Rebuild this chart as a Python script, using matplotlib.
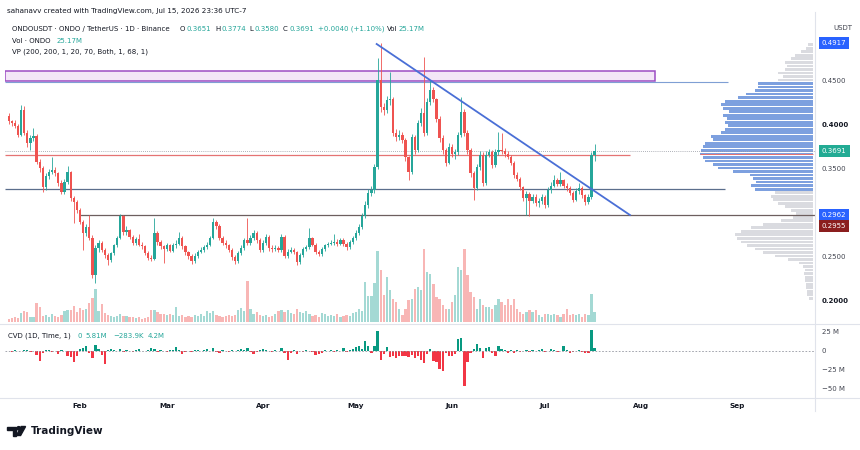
import numpy as np
import pandas as pd
import matplotlib
matplotlib.use("Agg")
import matplotlib.pyplot as plt
from matplotlib.lines import Line2D
from matplotlib.patches import Rectangle, Ellipse, Polygon

# ---- data (daily candles, ONDO/USDT) ----
day0 = pd.Timestamp("2026-01-09")
month_starts = ["2026-02-01", "2026-03-01", "2026-04-01", "2026-05-01",
                "2026-06-01", "2026-07-01", "2026-08-01", "2026-09-01"]
month_names = ["Feb", "Mar", "Apr", "May", "Jun", "Jul", "Aug", "Sep"]

first_open = 0.409
close = [.403, .401, .398, .388, .416, .390, .378, .384, .386, .357,
         .350, .328, .341, .345, .348, .344, .333, .323, .334, .345,
         .316, .311, .302, .289, .276, .283, .271, .228, .259, .265,
         .257, .251, .245, .253, .262, .271, .295, .277, .279, .272,
         .265, .269, .263, .261, .253, .248, .247, .276, .266, .261,
         .258, .262, .256, .262, .264, .271, .261, .254, .250, .244,
         .250, .255, .257, .260, .263, .271, .289, .284, .271, .265,
         .262, .257, .249, .244, .253, .259, .268, .265, .270, .276,
         .268, .257, .265, .272, .259, .258, .259, .257, .272, .250,
         .255, .257, .254, .243, .251, .258, .260, .270, .263, .254,
         .252, .258, .262, .264, .265, .266, .264, .268, .264, .260,
         .266, .270, .276, .283, .296, .308, .322, .325, .351, .450,
         .419, .416, .427, .428, .390, .385, .388, .382, .362, .345,
         .385, .370, .401, .412, .390, .425, .439, .428, .406, .384,
         .370, .356, .374, .366, .368, .387, .414, .390, .370, .344,
         .327, .351, .365, .333, .365, .368, .353, .368, .370, .369,
         .366, .363, .356, .342, .338, .328, .316, .320, .313, .317,
         .310, .312, .317, .308, .325, .330, .336, .332, .336, .330,
         .327, .322, .314, .324, .327, .319, .311, .317, .3651, .3691]
high = [.412, .405, .404, .400, .422, .420, .393, .387, .396, .389,
        .360, .352, .344, .349, .362, .351, .346, .336, .337, .352,
        .347, .318, .314, .305, .291, .286, .297, .274, .262, .268,
        .267, .259, .253, .255, .264, .273, .298, .297, .284, .281,
        .274, .272, .275, .266, .263, .256, .251, .293, .278, .268,
        .263, .265, .264, .265, .268, .277, .273, .263, .256, .252,
        .253, .257, .260, .262, .266, .273, .293, .291, .286, .273,
        .268, .264, .259, .251, .256, .262, .271, .293, .274, .280,
        .278, .270, .268, .275, .274, .262, .262, .261, .275, .274,
        .258, .260, .259, .256, .253, .260, .263, .282, .272, .265,
        .257, .260, .264, .266, .268, .275, .269, .271, .270, .266,
        .268, .273, .279, .286, .299, .312, .326, .330, .355, .475,
        .4917, .424, .432, .459, .431, .394, .393, .391, .384, .364,
        .389, .388, .405, .418, .476, .429, .450, .442, .430, .409,
        .387, .373, .378, .377, .372, .391, .431, .417, .393, .373,
        .347, .355, .369, .368, .369, .372, .371, .372, .391, .390,
        .373, .369, .365, .358, .345, .340, .330, .324, .323, .321,
        .320, .316, .320, .319, .328, .334, .342, .339, .345, .338,
        .333, .330, .324, .327, .333, .329, .321, .320, .368, .3774]
low = [.400, .398, .396, .385, .386, .388, .374, .370, .381, .355,
       .346, .323, .325, .338, .343, .341, .330, .320, .321, .332,
       .313, .288, .299, .286, .257, .273, .268, .225, .219, .255,
       .254, .248, .240, .243, .251, .260, .269, .274, .274, .269,
       .262, .263, .261, .258, .251, .245, .244, .246, .263, .258,
       .242, .256, .254, .254, .259, .262, .258, .251, .247, .241,
       .242, .248, .253, .255, .258, .261, .269, .281, .268, .262,
       .259, .254, .246, .241, .242, .251, .257, .262, .263, .268,
       .265, .254, .255, .263, .256, .255, .256, .254, .255, .248,
       .248, .253, .252, .240, .241, .249, .256, .258, .261, .252,
       .250, .250, .256, .260, .262, .263, .261, .262, .261, .257,
       .258, .264, .268, .274, .281, .293, .305, .318, .322, .349,
       .414, .410, .412, .422, .386, .381, .382, .378, .358, .336,
       .343, .366, .368, .398, .386, .388, .422, .425, .402, .380,
       .366, .352, .354, .362, .360, .365, .385, .386, .366, .340,
       .314, .325, .348, .330, .331, .362, .350, .351, .365, .366,
       .363, .360, .353, .339, .335, .325, .313, .297, .296, .310,
       .307, .306, .309, .305, .306, .322, .328, .329, .330, .327,
       .324, .319, .311, .312, .321, .316, .308, .309, .315, .358]
volume = [3, 4, 5, 4, 9, 11, 10, 5, 5, 19,
          15, 6, 7, 5, 8, 6, 5, 7, 11, 12,
          12, 16, 10, 14, 12, 13, 19, 24, 33, 11,
          18, 9, 7, 6, 5, 6, 8, 6, 6, 5,
          5, 4, 5, 3, 4, 5, 12, 12, 10, 8,
          8, 7, 8, 7, 15, 6, 7, 5, 6, 5,
          7, 6, 8, 6, 11, 9, 11, 7, 6, 5,
          6, 7, 6, 7, 12, 14, 11, 41, 13, 8,
          10, 7, 6, 7, 5, 6, 8, 11, 12, 10,
          12, 9, 8, 13, 10, 9, 11, 8, 6, 7,
          5, 9, 8, 6, 7, 6, 8, 5, 6, 7,
          6, 9, 10, 13, 11, 40, 26, 26, 39, 71,
          52, 27, 45, 32, 23, 20, 13, 7, 13, 22,
          23, 33, 35, 32, 73, 50, 48, 38, 25, 23,
          17, 13, 13, 20, 27, 55, 52, 73, 47, 30,
          25, 13, 23, 17, 15, 15, 13, 17, 23, 20,
          17, 23, 17, 23, 13, 10, 8, 10, 12, 10,
          12, 7, 5, 8, 8, 7, 8, 7, 5, 8,
          13, 7, 8, 7, 8, 5, 8, 7, 28, 10]
cvd = [0.5, -0.8, 1.2, 0.6, -0.5, 1.0, 0.8, -1.0, 0.5, -5,
       -13, -3, 1.5, 0.8, -1, -0.5, -4, 1, 0.5, -6,
       -8, -14, -6, 2, 4, 6, -3, -9, 8, 3,
       -5, -17, 1, 2, 1.5, 0.5, 2.5, -1, 1, 0.5,
       -1, 1.5, 2, 0.5, -0.5, 1, 3.5, 2, -1, 1,
       0.5, -1.5, 1, 0.8, 5, 1, -3.5, -1, 0.5, -1,
       1, 1.5, 0.5, 1, 2, 0.5, 4, -1, -2, 1,
       0.5, -1, 1, 0.5, 1.5, 2, 1, 4, -1, -4,
       -1, 1, 3, 1, 0.5, -1, 1, 0.5, 4, -2,
       -12, -2, 1, -4, 0.5, -1, 1, 0.5, -1, -5,
       -4, -2, 1, 0.5, 1, -1, 1.5, 0.5, 4, -1,
       1, 2, 5, 6, 2, 13, 6, -3, 6, 26,
       -12, -4, 5, -8, -7, -9, -6, -7, -6, -8,
       -5, -9, -6, -12, -16, -4, 3, -13, -14, -24,
       -26, -3, -6, -7, -4, 16, 17, -46, -15, -3,
       3, 9, 4, -9, 4, 5, -2, -6, 6, 2,
       1, -2, 1.5, -2, 1, -1, 0.5, 1, -1, 1,
       0.5, 1, 2.5, -1, 0.5, 2.5, 1, -1, 0.5, 6,
       1, -2, -1, 0.5, 1, -1, -2.5, -3, 27, 4]

# volume profile rows (bottom to top)
vp_start, vp_step = 0.202, 0.004
vp_volume = [4, 6, 6, 7, 7, 8, 8, 9, 8, 10,
             14, 25, 38, 50, 58, 66, 72, 76, 78, 72,
             62, 50, 32, 20, 17, 22, 28, 35, 40, 42,
             38, 58, 62, 57, 60, 63, 80, 95, 100, 108,
             110, 113, 112, 110, 108, 100, 102, 92, 88, 85,
             88, 86, 90, 84, 90, 92, 88, 75, 67, 58,
             55, 55, 35, 30, 35, 28, 26, 28, 22, 18,
             12, 7, 5]
va_low, va_high = 0.324, 0.448

# drawings
zone_low, zone_high = 0.4489, 0.4606
level_blue = 0.448
level_red = 0.3643
level_mid = 0.3258
level_support = 0.2962
last_price = 0.3691
trend_x = [118.7, 200.4]
trend_y = [0.4909, 0.2966]

UP, DOWN = "#26a69a", "#ef5350"
DARK, GREY = "#131722", "#434651"

W, H = 860, 450
def fx(px): return px / W
def fy(py): return 1 - py / H

fig = plt.figure(figsize=(8.6, 4.5), dpi=100)
fig.patch.set_facecolor("white")
renderer = fig.canvas.get_renderer()

rect_main = [fx(5), fy(322), fx(815) - fx(5), fy(28) - fy(322)]
ax_vol = fig.add_axes(rect_main, label="vol")
ax = fig.add_axes(rect_main, label="price")
ax.set_facecolor("none")
ax_cvd = fig.add_axes([fx(5), fy(400), fx(815) - fx(5), fy(325) - fy(400)], label="cvd")

n = len(close)
idx = np.arange(n)
o = np.array([first_open] + close[:-1])
c = np.array(close)
is_up = c >= o
cols = np.where(is_up, UP, DOWN)
XL = (-1.19, 260.1)

# volume
ax_vol.bar(idx, volume, width=0.75, color=cols, alpha=0.42, lw=0)
ax_vol.set_xlim(*XL)
ax_vol.set_ylim(0, 294)
ax_vol.axis("off")

# volume profile
vp_prices = vp_start + vp_step * np.arange(len(vp_volume))
vp_cols = ["#6f96dc" if va_low <= p <= va_high else "#d6d8dd" for p in vp_prices]
ax.barh(vp_prices, -np.array(vp_volume) / 3.1, left=259.5, height=0.0032,
        color=vp_cols, lw=0, alpha=0.9, zorder=1)

# zone and lines
ax.add_patch(Rectangle((XL[0], zone_low), 208.5 - XL[0], zone_high - zone_low,
                       facecolor="#f3e6f7", edgecolor="#9c4dc4", lw=1.1, zorder=2))
ax.hlines(level_blue, XL[0], 232, color="#7f9fd4", lw=0.8, zorder=2)
ax.hlines(level_red, XL[0], 200.4, color="#e57373", lw=0.9, zorder=2)
ax.hlines(0.3660, 223, 259.5, color="#e57373", lw=0.7, zorder=2)
ax.hlines(level_mid, XL[0], 231, color="#5b6e8c", lw=0.9, zorder=2)
ax.hlines(level_support, 23, XL[1], color="#6d5f5f", lw=0.9, zorder=2)
ax.axhline(last_price, color="#9598a1", lw=0.6, ls=(0, (1, 1.5)), zorder=2)

# candles
ax.vlines(idx, low, high, colors=cols, lw=0.6, zorder=3)
body_lo = np.minimum(o, c)
body_h = np.maximum(np.abs(c - o), 0.0006)
ax.bar(idx, body_h, bottom=body_lo, width=0.72, color=cols, lw=0, zorder=4)

ax.plot(trend_x, trend_y, color="#4a6fd6", lw=1.3, zorder=5)

ax.set_xlim(*XL)
ax.set_ylim(0.175, 0.5091)
ax.set_xticks([])
ax.yaxis.tick_right()
ax.set_yticks([0.45, 0.40, 0.35, 0.25, 0.20])
ax.set_yticklabels(["0.4500", "0.4000", "0.3500", "0.2500", "0.2000"])
ax.tick_params(axis="y", length=0, pad=4.8, labelsize=5, labelcolor=GREY)
for lbl in ax.get_yticklabels():
    if lbl.get_text() in ("0.4000", "0.2000"):
        lbl.set_fontweight("bold")
        lbl.set_color(DARK)

tr = ax.get_yaxis_transform()
for pos, txt, bg in [(0.4917, "0.4917", "#2962ff"), (0.3691, "0.3691", "#22ab94"),
                     (0.2962, "0.2962", "#2962ff"), (0.2841, "0.2955", "#8b1e1e")]:
    ax.text(1 + 6.7 / 810, pos, txt, transform=tr, ha="left", va="center",
            fontsize=5, color="white", clip_on=False,
            bbox=dict(boxstyle="square,pad=0.45", fc=bg, ec="none"))

# CVD panel
cv = np.array(cvd)
ax_cvd.bar(idx, cv, width=0.72, color=np.where(cv >= 0, "#089981", "#f23645"), lw=0)
ax_cvd.axhline(0, color="#9598a1", lw=0.6, ls=(0, (2, 2)))
ax_cvd.set_xlim(*XL)
ax_cvd.set_ylim(-64.5, 34.2)
ax_cvd.yaxis.tick_right()
ax_cvd.set_yticks([25, 0, -25, -50])
ax_cvd.set_yticklabels(["25 M", "0", "\u221225 M", "\u221250 M"])
ax_cvd.tick_params(axis="y", length=0, pad=4.8, labelsize=5, labelcolor=GREY)
mpos = [(pd.Timestamp(m) - day0).days for m in month_starts]
ax_cvd.set_xticks(mpos)
ax_cvd.set_xticklabels(month_names, fontweight="bold")
ax_cvd.tick_params(axis="x", length=0, pad=2.5, labelsize=5.2, labelcolor=DARK)

for a in (ax, ax_vol, ax_cvd):
    for s in a.spines.values():
        s.set_visible(False)

# panel separators
sep = "#e0e3eb"
fig.add_artist(Line2D([fx(815), fx(815)], [fy(12), fy(411)], color=sep, lw=0.8))
fig.add_artist(Line2D([0, 1], [fy(323.5), fy(323.5)], color=sep, lw=0.8))
fig.add_artist(Line2D([0, 1], [fy(398), fy(398)], color=sep, lw=0.8))


def text_row(pieces, y, size):
    # place coloured pieces left to right, never letting them overlap
    end = 0
    for txt, x, col in pieces:
        x = max(x, end + 1.5)
        t = fig.text(fx(x), fy(y), txt, fontsize=size, color=col, va="center")
        end = x + t.get_window_extent(renderer).width


# header texts
fig.text(fx(7), fy(11), "sahanavv created with TradingView.com, Jul 15, 2026 23:36 UTC-7",
         fontsize=5.2, color=DARK, va="center")
text_row([("ONDOUSDT \u00b7 ONDO / TetherUS \u00b7 1D \u00b7 Binance", 12, DARK),
          ("O", 180, DARK), ("0.3651", 184, UP),
          ("H", 215, DARK), ("0.3774", 219, UP),
          ("L", 249, DARK), ("0.3580", 252.5, UP),
          ("C", 283, DARK), ("0.3691", 287.5, UP),
          ("+0.0040 (+1.10%)", 318, UP),
          ("Vol", 387, DARK), ("25.17M", 398, UP)], 29, 5.0)
text_row([("Vol \u00b7 ONDO", 12, DARK), ("25.17M", 57, UP)], 41, 5.0)
fig.text(fx(12), fy(52), "VP (200, 200, 1, 20, 70, Both, 1, 68, 1)",
         fontsize=5.0, color=DARK, va="center")
fig.text(fx(833), fy(28), "USDT", fontsize=5, color=GREY, va="center")

text_row([("CVD (1D, Time, 1)", 8, DARK), ("0", 78, UP), ("5.81M", 85, UP),
          ("\u2212283.9K", 113, UP), ("4.2M", 148, UP)], 336, 5.0)

# TradingView logo
def P(x, y): return (fx(x), fy(y))
fig.add_artist(Polygon([P(7.3, 426.5), P(16, 426.5), P(16, 435.5), P(12.7, 435.5),
                        P(12.7, 429.6), P(7.3, 429.6)], closed=True,
                       transform=fig.transFigure, color=DARK))
fig.add_artist(Ellipse(P(18.7, 428.3), 3.4 / W, 3.4 / H, transform=fig.transFigure, color=DARK))
fig.add_artist(Polygon([P(21.2, 426.5), P(25.6, 426.5), P(20.6, 435.5), P(16.4, 435.5)],
                       closed=True, transform=fig.transFigure, color=DARK))
fig.text(fx(31), fy(431.5), "TradingView", fontsize=7.5, fontweight="bold",
         color=DARK, va="center")

fig.savefig("out.png", dpi=100)
